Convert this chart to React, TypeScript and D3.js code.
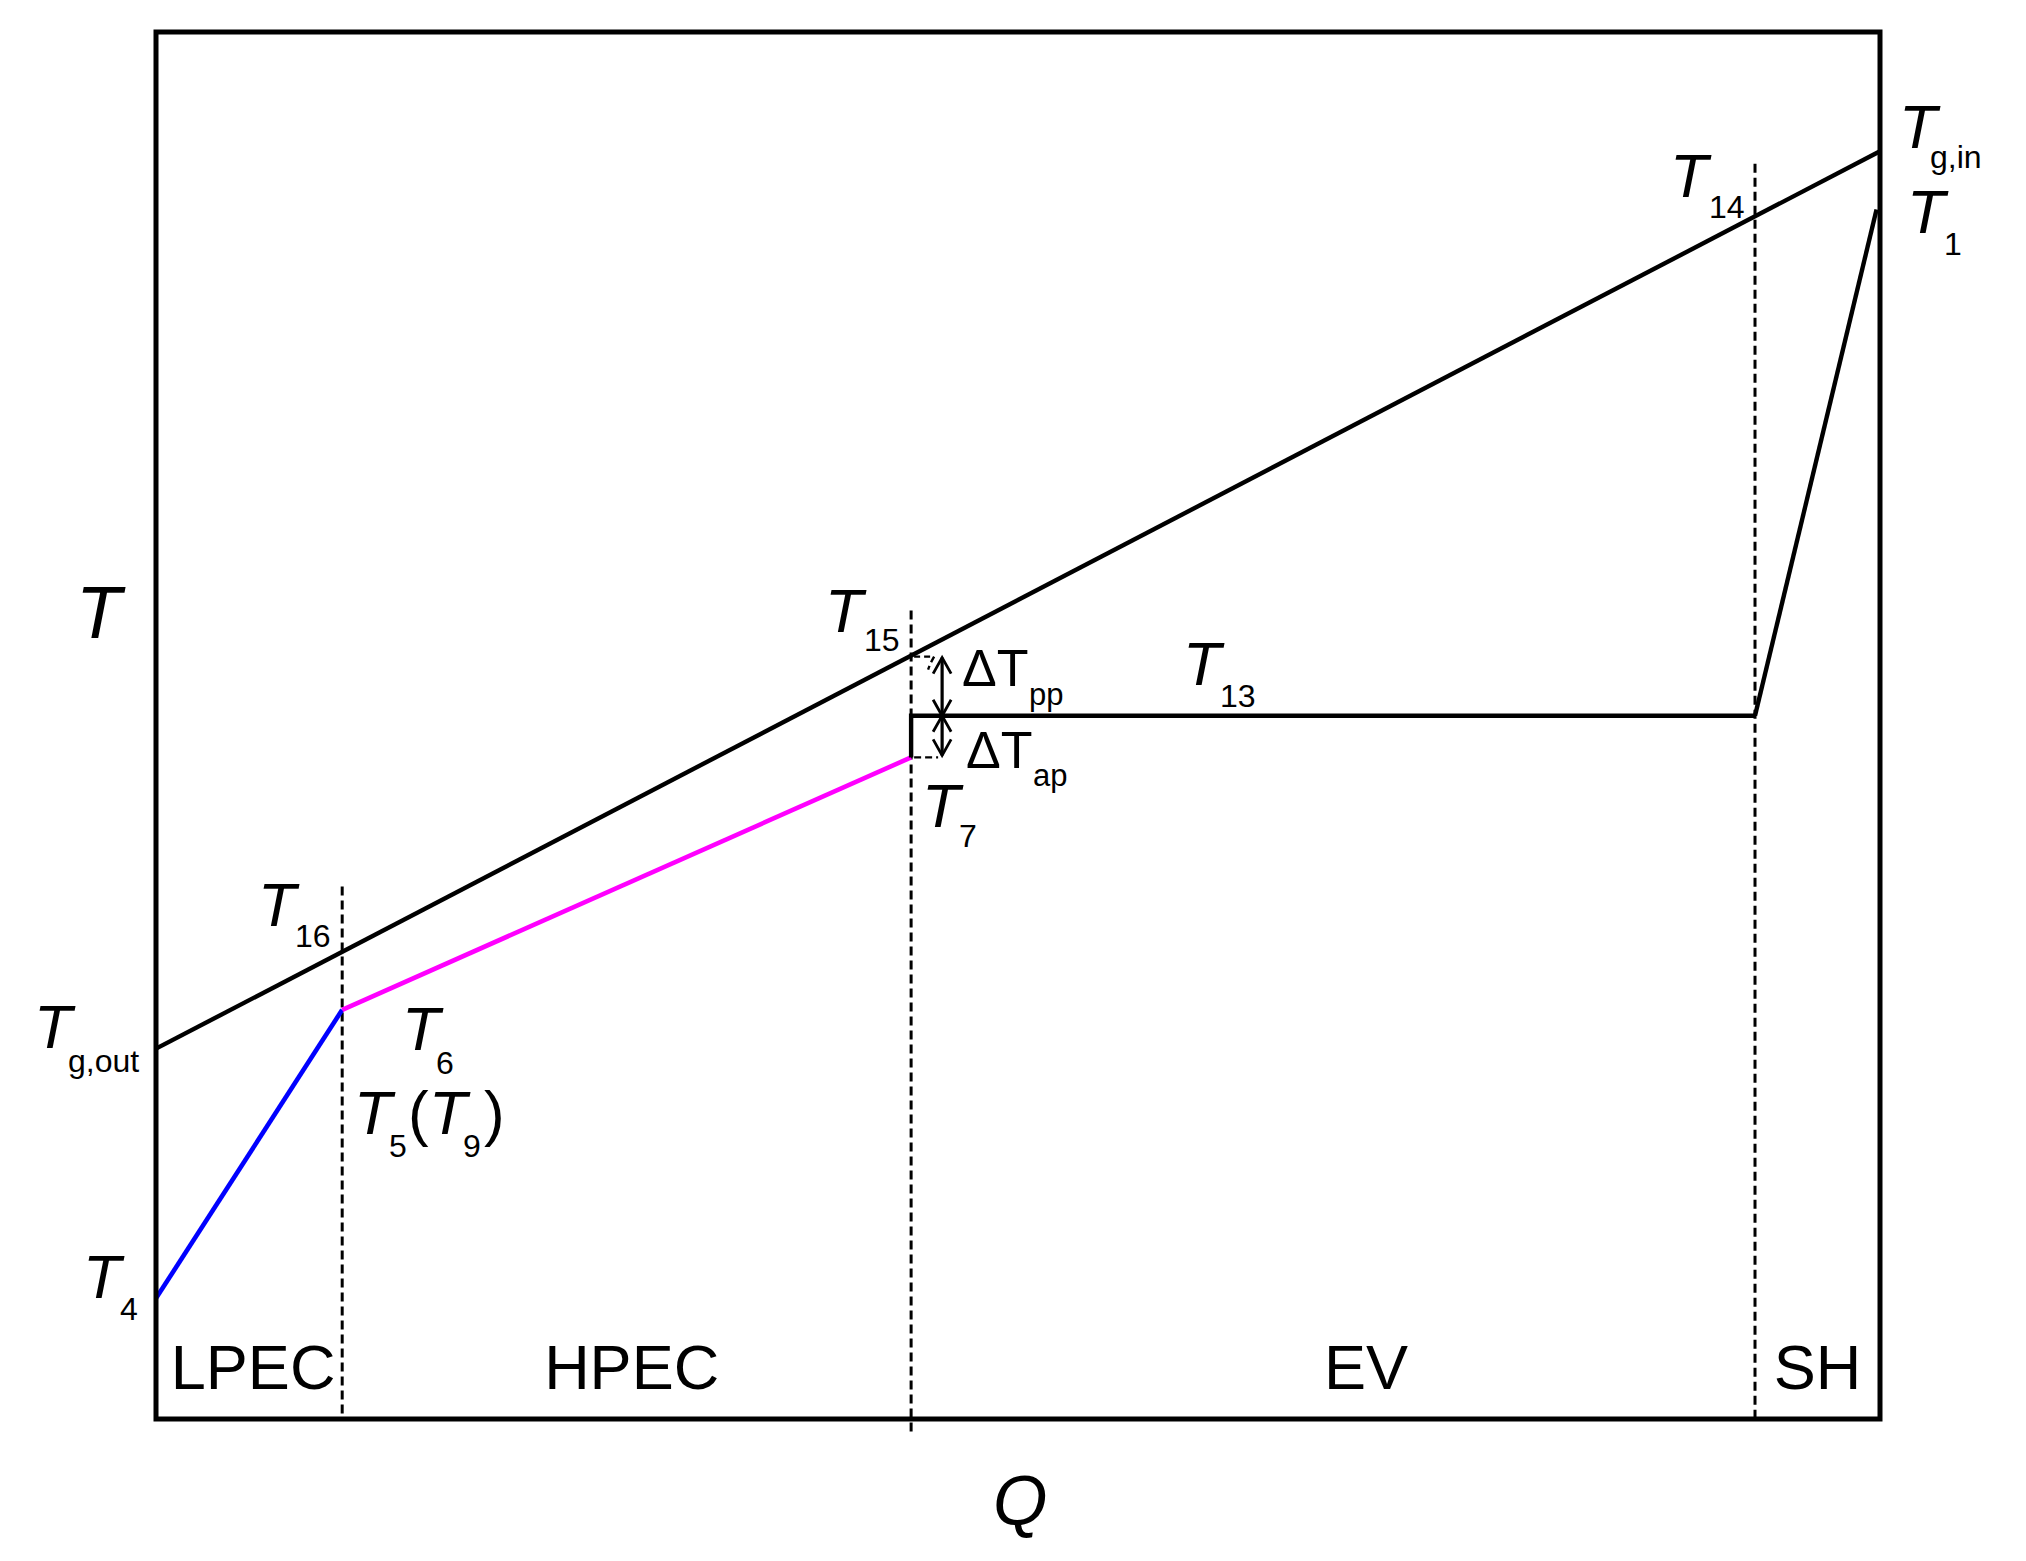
import React from "react";
import * as d3 from "d3";

// ---- data (Q in % of total heat duty, T in relative units) ----
const sectionNames = ["LPEC", "HPEC", "EV", "SH"];
const sectionBounds = [0, 10.8, 43.8, 92.75, 100];
const boundaryTops = [38.4, 58.3, 90.5]; // top of dashed section dividers (T)
const boundaryBottoms = [0, -0.95, 0];

const gasQ = [0, 100];
const gasT = [26.7, 91.4];

const lpecQ = [0, 10.8];
const lpecT = [8.7, 29.5];

const hpecQ = [10.8, 43.8];
const hpecT = [29.5, 47.7];

const evQ = [43.8, 43.8, 92.75];
const evT = [47.7, 50.7, 50.7];

const shQ = [92.75, 99.8];
const shT = [50.7, 87.2];

const W = 2026;
const H = 1561;
const box = { left: 156, right: 1880, top: 32, bottom: 1419 };

const FONT = "'Liberation Sans', Arial, Helvetica, sans-serif";

function Sub({ x, y, main, sub, sx, sy, fs = 62, sfs = 32, italic = true }: any) {
  return (
    <g fontFamily={FONT} fill="#000">
      <text x={x} y={y} fontSize={fs} fontStyle={italic ? "italic" : "normal"}>
        {main}
      </text>
      <text x={sx} y={sy} fontSize={sfs}>
        {sub}
      </text>
    </g>
  );
}

export default function App() {
  const x = d3.scaleLinear().domain([0, 100]).range([box.left, box.right]);
  const y = d3.scaleLinear().domain([0, 100]).range([box.bottom, box.top]);

  const line = d3
    .line<[number, number]>()
    .x((d) => x(d[0]))
    .y((d) => y(d[1]));

  const pts = (qs: number[], ts: number[]) => qs.map((q, i) => [q, ts[i]] as [number, number]);

  const gasAt = (q: number) => gasT[0] + ((gasT[1] - gasT[0]) * (q - gasQ[0])) / (gasQ[1] - gasQ[0]);

  // pinch / approach arrows
  const qPinch = sectionBounds[2];
  const ax = x(qPinch) + 31;
  const yGas = y(gasAt(qPinch));
  const yEv = y(evT[1]);
  const yEco = y(hpecT[1]);
  const head = (xx: number, yy: number, dir: number) =>
    `M${xx - 9},${yy - dir * 16} L${xx},${yy} L${xx + 9},${yy - dir * 16}`;

  const centers = sectionBounds.slice(0, -1).map((b, i) => (b + sectionBounds[i + 1]) / 2);
  const labelX = [x(centers[0]) + 4, x(centers[1]) + 5, x(centers[2]) + 33, x(centers[3])];

  return (
    <svg
      width={W}
      height={H}
      style={{ position: "absolute", left: 0, top: 0, background: "#fff" }}
      xmlns="http://www.w3.org/2000/svg"
    >
      <rect x={0} y={0} width={W} height={H} fill="#fff" />

      {/* section dividers */}
      {sectionBounds.slice(1, -1).map((b, i) => (
        <line
          key={"div" + i}
          x1={x(b)}
          x2={x(b)}
          y1={y(boundaryTops[i])}
          y2={y(boundaryBottoms[i])}
          stroke="#000"
          strokeWidth={3}
          strokeDasharray="9,5"
        />
      ))}

      {/* gas line */}
      <path d={line(pts(gasQ, gasT)) || ""} fill="none" stroke="#000" strokeWidth={4.4} />
      {/* LPEC water */}
      <path d={line(pts(lpecQ, lpecT)) || ""} fill="none" stroke="#0000ff" strokeWidth={4.6} />
      {/* HPEC water */}
      <path d={line(pts(hpecQ, hpecT)) || ""} fill="none" stroke="#ff00ff" strokeWidth={4.6} />
      {/* evaporator */}
      <path d={line(pts(evQ, evT)) || ""} fill="none" stroke="#000" strokeWidth={4.4} />
      {/* superheater */}
      <path d={line(pts(shQ, shT)) || ""} fill="none" stroke="#000" strokeWidth={4.4} strokeLinejoin="miter" />

      {/* dashed helper ticks */}
      <path
        d={`M${x(qPinch) + 3},${yGas + 1} L${ax - 8},${yGas + 1} Q${ax - 12},${yGas + 8} ${ax - 14},${yGas + 14}`}
        fill="none"
        stroke="#000"
        strokeWidth={2.4}
        strokeDasharray="6,4"
      />
      <line x1={x(qPinch) + 3} x2={ax - 4} y1={yEco} y2={yEco} stroke="#000" strokeWidth={2.4} strokeDasharray="7,4" />

      {/* arrows */}
      <line x1={ax} x2={ax} y1={yGas + 2} y2={yEv} stroke="#000" strokeWidth={3.2} />
      <line x1={ax} x2={ax} y1={yEv} y2={yEco - 2} stroke="#000" strokeWidth={3.2} />
      <path d={head(ax, yGas + 2, -1)} fill="none" stroke="#000" strokeWidth={2.8} />
      <path d={head(ax, yEv, 1)} fill="none" stroke="#000" strokeWidth={2.8} />
      <path d={head(ax, yEv, -1)} fill="none" stroke="#000" strokeWidth={2.8} />
      <path d={head(ax, yEco - 2, 1)} fill="none" stroke="#000" strokeWidth={2.8} />

      {/* frame */}
      <rect
        x={box.left}
        y={box.top}
        width={box.right - box.left}
        height={box.bottom - box.top}
        fill="none"
        stroke="#000"
        strokeWidth={5}
      />

      {/* section labels */}
      {sectionNames.map((s, i) => (
        <text
          key={s}
          x={labelX[i]}
          y={1389}
          textAnchor="middle"
          fontFamily={FONT}
          fontSize={63}
          fill="#000"
        >
          {s}
        </text>
      ))}

      {/* axis labels */}
      <text x={76} y={638} fontFamily={FONT} fontSize={74} fontStyle="italic" fill="#000">
        T
      </text>
      <text x={993} y={1525} fontFamily={FONT} fontSize={70} fontStyle="italic" fill="#000">
        Q
      </text>

      {/* point labels */}
      <Sub x={1899} y={148} main="T" sub="g,in" sx={1930} sy={168} />
      <Sub x={1907} y={233} main="T" sub="1" sx={1944} sy={255} />
      <Sub x={1670} y={197} main="T" sub="14" sx={1709} sy={218} />
      <Sub x={825} y={632} main="T" sub="15" sx={864} sy={651} />
      <Sub x={1183} y={685} main="T" sub="13" sx={1220} sy={707} />
      <Sub x={922} y={827} main="T" sub="7" sx={959} sy={847} />
      <Sub x={258} y={926} main="T" sub="16" sx={295} sy={947} />
      <Sub x={34} y={1048} main="T" sub="g,out" sx={68} sy={1072} />
      <Sub x={402} y={1050} main="T" sub="6" sx={436} sy={1074} />
      <Sub x={83} y={1298} main="T" sub="4" sx={120} sy={1320} />
      <g fontFamily={FONT} fill="#000">
        <text x={354} y={1134} fontSize={62} fontStyle="italic">T</text>
        <text x={389} y={1157} fontSize={32}>5</text>
        <text x={408} y={1134} fontSize={62}>(</text>
        <text x={429} y={1134} fontSize={62} fontStyle="italic">T</text>
        <text x={463} y={1157} fontSize={32}>9</text>
        <text x={484} y={1134} fontSize={62}>)</text>
      </g>
      <Sub x={962} y={686} main="ΔT" sub="pp" sx={1029} sy={705} fs={52} sfs={31} italic={false} />
      <Sub x={966} y={768} main="ΔT" sub="ap" sx={1033} sy={786} fs={52} sfs={31} italic={false} />
    </svg>
  );
}
